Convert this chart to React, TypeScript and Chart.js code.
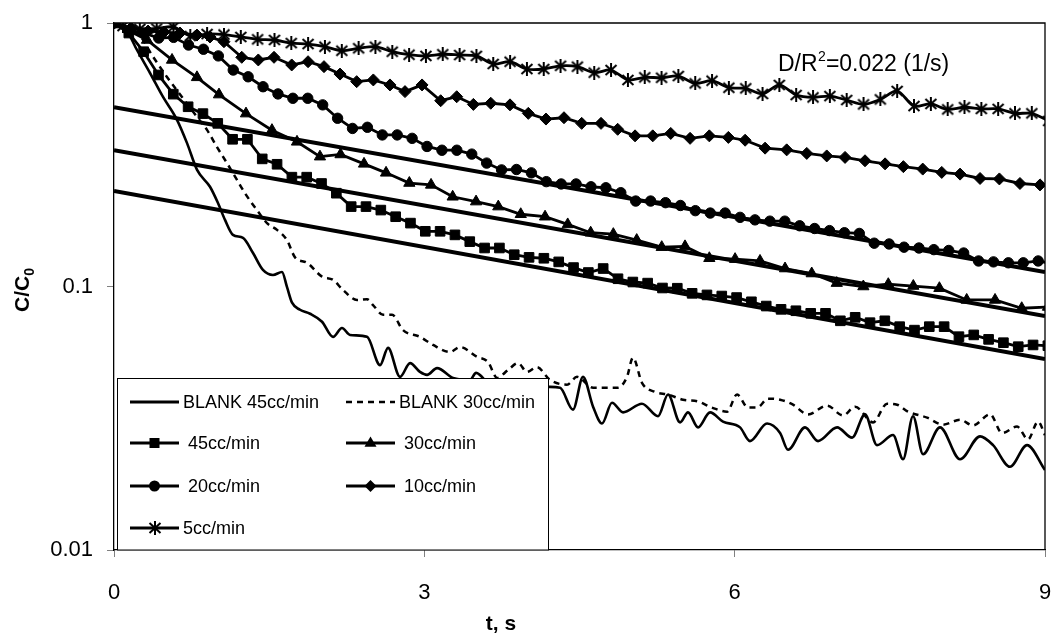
import React, { useEffect, useRef } from 'react';
import { Chart, registerables } from 'chart.js';

Chart.register(...registerables);

const FONT = "'Liberation Sans', Arial, Helvetica, sans-serif";

// ---- data (t in s, C/C0) ----
const starStart = -0.076;
const starStep = 0.1627;
const star5 = [1.0, 0.974, 0.949, 0.953, 0.966, 0.893, 0.908, 0.904, 0.885, 0.867, 0.862, 0.839, 0.832, 0.813, 0.785, 0.802, 0.813, 0.778, 0.758, 0.750, 0.761, 0.756, 0.750, 0.699, 0.713, 0.669, 0.669, 0.688, 0.683, 0.648, 0.663, 0.608, 0.622, 0.620, 0.629, 0.590, 0.604, 0.568, 0.565, 0.538, 0.582, 0.533, 0.522, 0.528, 0.510, 0.491, 0.513, 0.552, 0.484, 0.493, 0.470, 0.479, 0.472, 0.472, 0.454, 0.454, 0.425];

const circleStep = 0.1441;
const circle20 = [1.0, 0.932, 0.916, 0.877, 0.882, 0.825, 0.795, 0.750, 0.663, 0.625, 0.573, 0.538, 0.518, 0.518, 0.489, 0.435, 0.398, 0.402, 0.376, 0.376, 0.365, 0.340, 0.329, 0.329, 0.318, 0.294, 0.277, 0.278, 0.270, 0.250, 0.245, 0.245, 0.239, 0.237, 0.227, 0.211, 0.211, 0.208, 0.203, 0.194, 0.190, 0.190, 0.183, 0.179, 0.177, 0.177, 0.170, 0.166, 0.163, 0.160, 0.159, 0.146, 0.145, 0.141, 0.140, 0.138, 0.137, 0.134, 0.125, 0.124, 0.123, 0.123, 0.125, 0.122];

const squareStep = 0.1433;
const square45 = [1.0, 0.916, 0.778, 0.635, 0.537, 0.481, 0.453, 0.416, 0.362, 0.362, 0.305, 0.291, 0.260, 0.260, 0.246, 0.226, 0.201, 0.201, 0.195, 0.184, 0.174, 0.162, 0.162, 0.157, 0.148, 0.140, 0.140, 0.132, 0.129, 0.128, 0.124, 0.118, 0.113, 0.117, 0.107, 0.104, 0.103, 0.0987, 0.0985, 0.0942, 0.0929, 0.0920, 0.0908, 0.0875, 0.0843, 0.0819, 0.0809, 0.0791, 0.0791, 0.0741, 0.0764, 0.0729, 0.0741, 0.0704, 0.0683, 0.0704, 0.0704, 0.0645, 0.0655, 0.0630, 0.0612, 0.0591, 0.0600, 0.0596];

const diamondT = [0, 0.164, 0.329, 0.483, 0.638, 0.802, 0.928, 1.063, 1.235, 1.395, 1.547, 1.718, 1.876, 2.030, 2.185, 2.346, 2.507, 2.668, 2.813, 2.978, 3.158, 3.313, 3.474, 3.642, 3.828, 4.005, 4.176, 4.350, 4.521, 4.708, 4.869, 5.037, 5.208, 5.382, 5.569, 5.755, 5.939, 6.101, 6.294, 6.503, 6.697, 6.890, 7.067, 7.260, 7.454, 7.631, 7.818, 8.002, 8.179, 8.372, 8.559, 8.758, 8.952];
const diamond10 = [1.0, 0.957, 0.932, 0.924, 0.916, 0.900, 0.885, 0.849, 0.741, 0.724, 0.741, 0.693, 0.713, 0.683, 0.640, 0.599, 0.608, 0.582, 0.549, 0.582, 0.507, 0.525, 0.491, 0.496, 0.489, 0.454, 0.432, 0.437, 0.416, 0.416, 0.395, 0.373, 0.373, 0.381, 0.365, 0.373, 0.368, 0.359, 0.335, 0.330, 0.320, 0.313, 0.309, 0.300, 0.292, 0.285, 0.279, 0.271, 0.267, 0.257, 0.256, 0.246, 0.243];

const triT = [0, 0.319, 0.561, 0.802, 1.015, 1.276, 1.527, 1.769, 1.991, 2.190, 2.417, 2.630, 2.855, 3.065, 3.274, 3.500, 3.715, 3.932, 4.167, 4.386, 4.608, 4.827, 5.053, 5.295, 5.520, 5.755, 6.004, 6.245, 6.487, 6.745, 6.987, 7.244, 7.485, 7.727, 7.979, 8.243, 8.517, 8.775, 9.029];
const tri30 = [1.0, 0.862, 0.724, 0.622, 0.535, 0.453, 0.392, 0.354, 0.311, 0.317, 0.292, 0.270, 0.247, 0.243, 0.219, 0.210, 0.201, 0.188, 0.184, 0.172, 0.160, 0.158, 0.150, 0.141, 0.142, 0.128, 0.127, 0.125, 0.117, 0.112, 0.103, 0.100, 0.102, 0.1004, 0.0985, 0.0889, 0.0889, 0.0827, 0.0836];

const blank45T = [0, 0.135, 0.222, 0.348, 0.474, 0.609, 0.706, 0.803, 0.928, 1.006, 1.073, 1.150, 1.247, 1.344, 1.440, 1.537, 1.624, 1.672, 1.721, 1.798, 1.895, 2.011, 2.117, 2.204, 2.282, 2.446, 2.572, 2.649, 2.765, 2.862, 2.958, 3.026, 3.123, 3.277, 3.442, 3.500, 3.635, 3.828, 4.022, 4.196, 4.312, 4.437, 4.534, 4.631, 4.718, 4.814, 4.921, 5.104, 5.259, 5.356, 5.472, 5.549, 5.646, 5.762, 5.887, 6.052, 6.148, 6.313, 6.439, 6.516, 6.680, 6.806, 6.990, 7.135, 7.260, 7.376, 7.531, 7.628, 7.724, 7.821, 7.985, 8.179, 8.372, 8.498, 8.662, 8.826, 9.0];
const blank45 = [1.0, 0.916, 0.790, 0.646, 0.524, 0.429, 0.350, 0.277, 0.239, 0.207, 0.179, 0.157, 0.153, 0.134, 0.1156, 0.1106, 0.1135, 0.0996, 0.0868, 0.0816, 0.0788, 0.0735, 0.0644, 0.0696, 0.0655, 0.0644, 0.0503, 0.0585, 0.0454, 0.0512, 0.0474, 0.0462, 0.0490, 0.0450, 0.0442, 0.0470, 0.0424, 0.0413, 0.0424, 0.0416, 0.0413, 0.0341, 0.0454, 0.0350, 0.0302, 0.0362, 0.0333, 0.0359, 0.0322, 0.0389, 0.0305, 0.0333, 0.0292, 0.0333, 0.0307, 0.0292, 0.0259, 0.0302, 0.0278, 0.0240, 0.0292, 0.0259, 0.0292, 0.0267, 0.0327, 0.0250, 0.0273, 0.0221, 0.0322, 0.0231, 0.0292, 0.0221, 0.0270, 0.0250, 0.0207, 0.0250, 0.0201];

const blank30T = [0, 0.232, 0.367, 0.512, 0.657, 0.802, 0.899, 0.996, 1.092, 1.189, 1.266, 1.382, 1.479, 1.576, 1.672, 1.750, 1.866, 2.011, 2.117, 2.214, 2.349, 2.446, 2.504, 2.601, 2.688, 2.794, 2.958, 3.084, 3.248, 3.345, 3.509, 3.616, 3.703, 3.809, 3.906, 3.993, 4.089, 4.215, 4.379, 4.476, 4.631, 4.872, 4.959, 5.017, 5.104, 5.230, 5.356, 5.501, 5.646, 5.781, 5.926, 6.023, 6.129, 6.216, 6.322, 6.439, 6.564, 6.709, 6.893, 7.048, 7.164, 7.338, 7.473, 7.570, 7.676, 7.860, 8.014, 8.179, 8.304, 8.469, 8.585, 8.730, 8.836, 8.933, 9.0];
const blank30 = [1.0, 0.916, 0.756, 0.624, 0.524, 0.440, 0.393, 0.338, 0.294, 0.254, 0.226, 0.195, 0.174, 0.164, 0.150, 0.129, 0.123, 0.109, 0.106, 0.0970, 0.0889, 0.0895, 0.0850, 0.0781, 0.0781, 0.0683, 0.0644, 0.0600, 0.0564, 0.0589, 0.0541, 0.0517, 0.0450, 0.0482, 0.0512, 0.0474, 0.0494, 0.0442, 0.0424, 0.0454, 0.0413, 0.0413, 0.0454, 0.0537, 0.0431, 0.0398, 0.0389, 0.0372, 0.0366, 0.0347, 0.0335, 0.0389, 0.0347, 0.0347, 0.0375, 0.0372, 0.0356, 0.0327, 0.0353, 0.0324, 0.0350, 0.0305, 0.0359, 0.0356, 0.0335, 0.0318, 0.0299, 0.0312, 0.0297, 0.0327, 0.0278, 0.0294, 0.0263, 0.0307, 0.0273];

const fitT = [0, 9];
const fitA = [0.479, 0.1135];
const fitB = [0.329, 0.0773];
const fitC = [0.2304, 0.0531];

const xTicks = [0, 3, 6, 9];
const yTicks = [0.01, 0.1, 1];
const yTickLabels = ['0.01', '0.1', '1'];

const legendLabels = ['BLANK 45cc/min', 'BLANK 30cc/min', ' 45cc/min', ' 30cc/min', ' 20cc/min', ' 10cc/min', '5cc/min'];
const annotationText = ['D/R', '2', '=0.022 (1/s)'];

const pts = (t: number[], v: number[]) => t.map((x, i) => ({ x, y: v[i] }));
const grid = (start: number, step: number, n: number) =>
  Array.from({ length: n }, (_, i) => start + i * step);

function makeStar(): HTMLCanvasElement {
  const c = document.createElement('canvas');
  c.width = 14;
  c.height = 14;
  const g = c.getContext('2d')!;
  g.strokeStyle = '#000';
  g.lineWidth = 2;
  g.lineCap = 'butt';
  g.beginPath();
  g.moveTo(7, 0);
  g.lineTo(7, 14);
  g.moveTo(1.5, 2);
  g.lineTo(12.5, 12);
  g.moveTo(1.5, 12);
  g.lineTo(12.5, 2);
  g.stroke();
  return c;
}

function drawMarker(ctx: CanvasRenderingContext2D, kind: string, x: number, y: number, star: HTMLCanvasElement) {
  ctx.save();
  ctx.fillStyle = '#000';
  ctx.beginPath();
  if (kind === 'rect') {
    ctx.rect(x - 5, y - 5, 10, 10);
    ctx.fill();
  } else if (kind === 'circle') {
    ctx.arc(x, y, 5.5, 0, Math.PI * 2);
    ctx.fill();
  } else if (kind === 'triangle') {
    ctx.moveTo(x, y - 6.5);
    ctx.lineTo(x + 6, y + 3.8);
    ctx.lineTo(x - 6, y + 3.8);
    ctx.closePath();
    ctx.fill();
  } else if (kind === 'rectRot') {
    ctx.moveTo(x, y - 6);
    ctx.lineTo(x + 6, y);
    ctx.lineTo(x, y + 6);
    ctx.lineTo(x - 6, y);
    ctx.closePath();
    ctx.fill();
  } else if (kind === 'star') {
    ctx.drawImage(star, Math.round(x - star.width / 2), Math.round(y - star.height / 2));
  }
  ctx.restore();
}

export default function App() {
  const ref = useRef<HTMLCanvasElement | null>(null);

  useEffect(() => {
    document.body.style.margin = '0';
    const canvas = ref.current;
    if (!canvas) return;
    const star = makeStar();

    const markerLine = (label: string, data: any[], style: any, radius: number, tension = 0) => ({
      label,
      data,
      borderColor: '#000',
      borderWidth: 2.8,
      backgroundColor: '#000',
      pointStyle: style,
      pointRadius: radius,
      pointBackgroundColor: '#000',
      pointBorderColor: '#000',
      pointBorderWidth: 1,
      tension,
      fill: false,
    });
    const fitLine = (label: string, v: number[]) => ({
      label,
      data: pts(fitT, v),
      borderColor: '#000',
      borderWidth: 4,
      pointRadius: 0,
      fill: false,
    });

    const datasets: any[] = [
      markerLine('5cc/min', pts(grid(starStart, starStep, star5.length), star5), star, 7, 0.3),
      markerLine('10cc/min', pts(diamondT, diamond10), 'rectRot', 6),
      markerLine('20cc/min', pts(grid(0, circleStep, circle20.length), circle20), 'circle', 5.2),
      markerLine('30cc/min', pts(triT, tri30), 'triangle', 6.5),
      markerLine('45cc/min', pts(grid(0, squareStep, square45.length), square45), 'rect', 6.8),
      fitLine('fit A', fitA),
      fitLine('fit B', fitB),
      fitLine('fit C', fitC),
      {
        label: 'BLANK 30cc/min',
        data: pts(blank30T, blank30),
        borderColor: '#000',
        borderWidth: 2.5,
        borderDash: [6, 5],
        pointRadius: 0,
        cubicInterpolationMode: 'monotone',
        fill: false,
      },
      {
        label: 'BLANK 45cc/min',
        data: pts(blank45T, blank45),
        borderColor: '#000',
        borderWidth: 2.6,
        pointRadius: 0,
        cubicInterpolationMode: 'monotone',
        fill: false,
      },
    ];

    const decor = {
      id: 'decor',
      afterDatasetsDraw(chart: any) {
        const { ctx, chartArea: a } = chart;
        ctx.save();
        // frame
        ctx.strokeStyle = '#000';
        ctx.lineWidth = 1.3;
        ctx.beginPath();
        ctx.moveTo(a.left, a.top);
        ctx.lineTo(a.right, a.top);
        ctx.lineTo(a.right, a.bottom);
        ctx.stroke();

        // legend box
        const lx = a.left + 3;
        const ly = a.bottom - 172;
        const lw = 431;
        const lh = 172;
        ctx.fillStyle = '#fff';
        ctx.fillRect(lx, ly, lw, lh);
        ctx.strokeStyle = '#000';
        ctx.lineWidth = 1;
        ctx.strokeRect(lx + 0.5, ly + 0.5, lw, lh - 0.5);

        const rows = [ly + 24, ly + 65, ly + 108, ly + 150];
        const c1 = [lx + 13, lx + 62];
        const c2 = [lx + 229, lx + 278];
        const items = [
          { label: legendLabels[0], col: 0, row: 0, kind: 'solid' },
          { label: legendLabels[1], col: 1, row: 0, kind: 'dash' },
          { label: legendLabels[2], col: 0, row: 1, kind: 'rect' },
          { label: legendLabels[3], col: 1, row: 1, kind: 'triangle' },
          { label: legendLabels[4], col: 0, row: 2, kind: 'circle' },
          { label: legendLabels[5], col: 1, row: 2, kind: 'rectRot' },
          { label: legendLabels[6], col: 0, row: 3, kind: 'star' },
        ];
        ctx.font = `18px ${FONT}`;
        ctx.textBaseline = 'middle';
        ctx.textAlign = 'left';
        for (const it of items) {
          const [x1, x2] = it.col === 0 ? c1 : c2;
          const y = rows[it.row];
          ctx.save();
          ctx.strokeStyle = '#000';
          ctx.lineWidth = it.kind === 'dash' ? 2.5 : 2.8;
          if (it.kind === 'dash') ctx.setLineDash([6, 5]);
          ctx.beginPath();
          ctx.moveTo(x1, y);
          ctx.lineTo(x2, y);
          ctx.stroke();
          ctx.restore();
          if (it.kind !== 'solid' && it.kind !== 'dash') drawMarker(ctx, it.kind, (x1 + x2) / 2, y, star);
          ctx.fillStyle = '#000';
          ctx.fillText(it.label, x2 + 4, y + 1);
        }

        // annotation D/R^2 = ...
        ctx.fillStyle = '#000';
        ctx.textBaseline = 'alphabetic';
        ctx.font = `23px ${FONT}`;
        let ax = 778;
        const ay = 71;
        ctx.fillText(annotationText[0], ax, ay);
        ax += ctx.measureText(annotationText[0]).width;
        ctx.font = `14px ${FONT}`;
        ctx.fillText(annotationText[1], ax + 0.5, ay - 10);
        ax += ctx.measureText(annotationText[1]).width + 0.5;
        ctx.font = `23px ${FONT}`;
        ctx.fillText(annotationText[2], ax, ay);

        // x axis title
        ctx.font = `bold 21px ${FONT}`;
        ctx.textAlign = 'center';
        ctx.textBaseline = 'middle';
        ctx.fillText('t, s', 501, 624);

        // y axis title with subscript
        ctx.save();
        ctx.translate(22, 290);
        ctx.rotate(-Math.PI / 2);
        ctx.textAlign = 'left';
        ctx.textBaseline = 'alphabetic';
        ctx.font = `bold 21px ${FONT}`;
        const main = 'C/C';
        const w1 = ctx.measureText(main).width;
        ctx.font = `bold 14px ${FONT}`;
        const w2 = ctx.measureText('0').width;
        const total = w1 + w2;
        ctx.font = `bold 21px ${FONT}`;
        ctx.fillText(main, -total / 2, 7);
        ctx.font = `bold 14px ${FONT}`;
        ctx.fillText('0', -total / 2 + w1, 12);
        ctx.restore();

        ctx.restore();
      },
    };

    const chart = new Chart(canvas, {
      type: 'line',
      data: { datasets },
      options: {
        animation: false,
        responsive: false,
        devicePixelRatio: 1,
        parsing: false as any,
        normalized: true,
        layout: { padding: { left: 0, right: 10, top: 23, bottom: 0 } },
        plugins: {
          legend: { display: false },
          tooltip: { enabled: false },
          title: { display: false },
        },
        scales: {
          x: {
            type: 'linear',
            min: 0,
            max: 9,
            afterBuildTicks: (s: any) => {
              s.ticks = xTicks.map((v) => ({ value: v }));
            },
            ticks: {
              color: '#000',
              font: { family: FONT, size: 22 },
              padding: 23,
              maxRotation: 0,
              autoSkip: false,
              callback: (v: any) => String(v),
            },
            grid: { drawOnChartArea: false, drawTicks: true, tickLength: 7, color: '#808080', lineWidth: 1 },
            border: { display: true, color: '#000', width: 1.3 },
            afterFit: (s: any) => {
              s.height = 89;
              s.paddingLeft = 0;
              s.paddingRight = 0;
              s.paddingTop = 0;
              s.paddingBottom = 0;
            },
          },
          y: {
            type: 'logarithmic',
            min: 0.01,
            max: 1,
            afterBuildTicks: (s: any) => {
              s.ticks = yTicks.map((v) => ({ value: v }));
            },
            ticks: {
              color: '#000',
              font: { family: FONT, size: 22 },
              padding: 14,
              autoSkip: false,
              callback: (v: any) => {
                const i = yTicks.findIndex((t) => Math.abs(t - v) / t < 1e-6);
                return i >= 0 ? yTickLabels[i] : '';
              },
            },
            grid: { drawOnChartArea: false, drawTicks: true, tickLength: 7, color: '#808080', lineWidth: 1 },
            border: { display: true, color: '#000', width: 1.3 },
            afterFit: (s: any) => {
              s.width = 114;
              s.paddingLeft = 0;
              s.paddingRight = 0;
              s.paddingTop = 0;
              s.paddingBottom = 0;
            },
          },
        },
      },
      plugins: [decor],
    } as any);

    return () => chart.destroy();
  }, []);

  return (
    <div style={{ width: 1055, height: 639, position: 'relative', background: '#fff' }}>
      <canvas ref={ref} width={1055} height={639} style={{ display: 'block' }} />
    </div>
  );
}
